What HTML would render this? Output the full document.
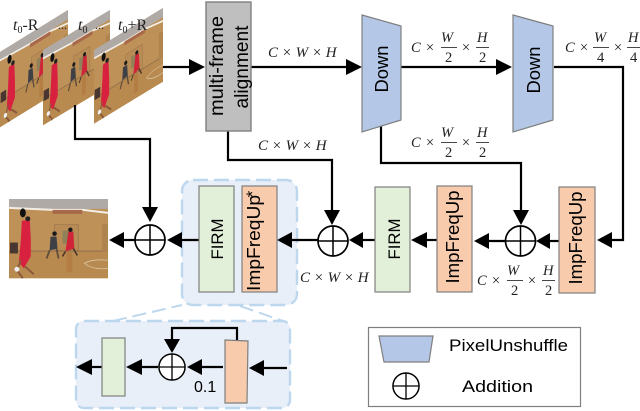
<!DOCTYPE html>
<html><head><meta charset="utf-8">
<style>
html,body{margin:0;padding:0;background:#fff}
svg{display:block}
.s{font-family:"Liberation Sans",sans-serif;fill:#000}
.m{font-family:"Liberation Serif",serif;font-style:italic;fill:#222}
.r{font-family:"Liberation Serif",serif;font-style:normal;fill:#222}
</style></head><body>
<svg width="640" height="411" viewBox="0 0 640 411" xmlns="http://www.w3.org/2000/svg">
<defs>
<g id="pic">
  <rect width="100" height="80" fill="#bd9158"/>
  <rect width="100" height="10" fill="#b0aaa6"/>
  <path d="M0 9L45 11L75 11L100 14" stroke="#f2eee6" stroke-width="2" fill="none"/>
  <rect x="44" y="11" width="30" height="4" fill="#a8694a"/>
  <rect x="0" y="53" width="100" height="27" fill="#b98a50"/>
  <rect x="0" y="52" width="100" height="1.2" fill="#96744e"/>
  <rect x="46" y="26" width="24" height="26" fill="#b98c56" stroke="#9a7448" stroke-width=".7"/>
  <rect x="54" y="32" width="11" height="13" fill="#8f8258"/>
  <rect x="94" y="25" width="6" height="28" fill="#b0844e"/>
  <rect x="1" y="44" width="8" height="11" fill="#4a3630"/>
  <path d="M13 22L21 21L22 40L22 58L15 70L10 64L12 40Z" fill="#d8213f"/>
  <ellipse cx="14" cy="14" rx="3" ry="4.5" fill="#111"/>
  <circle cx="19" cy="20" r="2.5" fill="#222"/>
  <path d="M12 62L8 72L14 80M16 68L25 76" stroke="#8a5a3a" stroke-width="2" fill="none"/>
  <circle cx="8" cy="71" r="2.500" fill="#eee"/>
  <path d="M42 38L48 38L49 50L41 52Z" fill="#3e4046"/>
  <circle cx="46" cy="35" r="2.3" fill="#1a1a1a"/>
  <path d="M41 52L38 60M48 50L50 60" stroke="#5c4a3a" stroke-width="1.8"/>
  <path d="M60 33L65 33L66 50L57 53Z" fill="#d02538"/>
  <circle cx="62" cy="31" r="2.2" fill="#1a1a1a"/>
  <path d="M57 53L54 58M65 50L69 57" stroke="#4a3428" stroke-width="1.6"/>
  <path d="M76 65Q85 60 100 62M76 65Q85 72 100 70" stroke="#d8c6a0" stroke-width=".8" fill="none"/>
  <rect x="58" y="54" width="6" height="20" fill="#a8642e" opacity=".35"/>
</g>
<g id="plus">
  <circle r="15" fill="#fff" stroke="#000" stroke-width="1.7"/>
  <path d="M-15 0H15M0 -15V15" stroke="#000" stroke-width="1.5"/>
</g>
</defs>

<!-- stacked frames -->
<g transform="matrix(.68 -.42 0 .94 0 52)"><use href="#pic"/></g>
<g transform="matrix(.67 -.4 0 .94 43 50)"><use href="#pic"/></g>
<g transform="matrix(.69 -.42 0 .92 94 50)"><use href="#pic"/></g>
<text x="13" y="30" class="m" font-size="16">t<tspan class="r" font-size="10" dy="3">0</tspan><tspan class="r" dy="-3">-R</tspan></text>
<text x="78" y="30" class="m" font-size="16">t<tspan class="r" font-size="10" dy="3">0</tspan></text>
<text x="118" y="30" class="m" font-size="16">t<tspan class="r" font-size="10" dy="3">0</tspan><tspan class="r" dy="-3">+R</tspan></text>
<text x="58" y="29" class="r" font-size="12">...</text>
<text x="95" y="29" class="r" font-size="12">...</text>

<!-- output image -->
<g transform="translate(9 199) scale(.99 .99)"><use href="#pic"/></g>

<!-- expanded panels -->
<path d="M113 321L182 305M240 306L283 321" stroke="#bdd7ee" stroke-width="2" stroke-dasharray="14 6" fill="none"/>
<rect x="182" y="180" width="115" height="125" rx="11" fill="#e8eff8" stroke="#bdd7ee" stroke-width="2.4" stroke-dasharray="15 6"/>
<rect x="76" y="321" width="214" height="87" rx="8" fill="#e8eff8" stroke="#bdd7ee" stroke-width="2.4" stroke-dasharray="15 6"/>

<!-- wires -->
<g fill="none" stroke="#000" stroke-width="2.2">
  <path d="M163 67H192"/>
  <path d="M251 67H350"/>
  <path d="M401 67H500"/>
  <path d="M554 67H623V240H610"/>
  <path d="M381 126V163H521V212"/>
  <path d="M228 131V160H332V212"/>
  <path d="M75 105V139H150V210"/>
  <path d="M559 241H548"/>
  <path d="M505 241H487"/>
  <path d="M437 240H425"/>
  <path d="M376 240H361"/>
  <path d="M318 240H290"/>
  <path d="M199 240H180"/>
  <path d="M135 240H122"/>
  <path d="M237 340V328H172V342"/>
  <path d="M287 368H262"/>
  <path d="M223 367H200"/>
  <path d="M158 367H140"/>
  <path d="M102 367H90"/>
</g>
<!-- arrowheads -->
<g fill="#000">
  <path d="M205 67L189 59V75Z"/>
  <path d="M362 67L346 59V75Z"/>
  <path d="M512 67L496 59V75Z"/>
  <path d="M597 240L612 232V248Z"/>
  <path d="M521 225L513 210H529Z"/>
  <path d="M332 225L324 210H340Z"/>
  <path d="M150 222L142 207H158Z"/>
  <path d="M536 241L550 233V249Z"/>
  <path d="M474 241L489 233V249Z"/>
  <path d="M411 240L427 232V248Z"/>
  <path d="M349 240L363 232V248Z"/>
  <path d="M277 240L292 232V248Z"/>
  <path d="M167 240L182 232V248Z"/>
  <path d="M109 240L124 232V248Z"/>
  <path d="M172 353L164 339H180Z"/>
  <path d="M249 368L264 360V376Z"/>
  <path d="M187 367L202 359V375Z"/>
  <path d="M126 367L142 359V375Z"/>
  <path d="M76 367L92 359V375Z"/>
</g>

<!-- boxes -->
<rect x="206" y="2" width="45" height="129" fill="#bfbfbf" stroke="#7f7f7f" stroke-width="1.4"/>
<path d="M362 15L401 26V120L362 132Z" fill="#b4c7e7" stroke="#7f7f7f" stroke-width="1.2"/>
<path d="M513 15L553 26V120L513 132Z" fill="#b4c7e7" stroke="#7f7f7f" stroke-width="1.2"/>
<g stroke="#7f7f7f" stroke-width="1.2">
  <rect x="199" y="186" width="35" height="106" fill="#e2efd9"/>
  <rect x="242" y="186" width="35" height="106" fill="#f8cbad"/>
  <rect x="375" y="187" width="35" height="105" fill="#e2efd9"/>
  <rect x="437" y="186" width="35" height="106" fill="#f8cbad"/>
  <rect x="559" y="187" width="36" height="106" fill="#f8cbad"/>
  <rect x="102" y="338" width="23" height="58" fill="#e2efd9"/>
  <path d="M225 340L248 341L247 403L225 403Z" fill="#f8cbad"/>
</g>

<!-- sums -->
<use href="#plus" transform="translate(150 240)"/>
<use href="#plus" transform="translate(333 241)"/>
<use href="#plus" transform="translate(520.5 241)"/>
<use href="#plus" transform="translate(172 367) scale(.87)"/>

<!-- rotated labels -->
<g class="s" text-anchor="middle">
  <text transform="translate(223 66) rotate(-90)" font-size="19" textLength="100" lengthAdjust="spacingAndGlyphs">multi-frame</text>
  <text transform="translate(248 67) rotate(-90)" font-size="19" textLength="83" lengthAdjust="spacingAndGlyphs">alignment</text>
  <text transform="translate(388 69) rotate(-90)" font-size="18" textLength="47" lengthAdjust="spacingAndGlyphs">Down</text>
  <text transform="translate(540 70) rotate(-90)" font-size="18" textLength="47" lengthAdjust="spacingAndGlyphs">Down</text>
  <text transform="translate(223 239) rotate(-90)" font-size="17" textLength="41" lengthAdjust="spacingAndGlyphs">FIRM</text>
  <text transform="translate(400 239) rotate(-90)" font-size="17" textLength="41" lengthAdjust="spacingAndGlyphs">FIRM</text>
  <text transform="translate(260 243) rotate(-90)" font-size="18" textLength="96" lengthAdjust="spacingAndGlyphs">ImpFreqUp</text>
  <text transform="translate(459 237) rotate(-90)" font-size="18" textLength="93" lengthAdjust="spacingAndGlyphs">ImpFreqUp</text>
  <text transform="translate(582 238) rotate(-90)" font-size="18" textLength="93" lengthAdjust="spacingAndGlyphs">ImpFreqUp</text>
</g>
<text transform="translate(258 194) rotate(-90)" class="s" font-size="17" text-anchor="middle">*</text>
<text x="194" y="392" class="s" font-size="16">0.1</text>

<!-- math labels -->
<text x="268" y="57" class="m" font-size="15">C × W × H</text>
<text x="258" y="150" class="m" font-size="15">C × W × H</text>
<text x="300" y="282" class="m" font-size="15">C × W × H</text>

<g class="m" font-size="14.5">
  <text x="411" y="52">C</text><text x="425" y="52">×</text><text x="441" y="42">W</text><path d="M441 47.5H457" stroke="#333" stroke-width=".9"/><text x="445" y="62" class="r">2</text>
  <text x="461" y="52">×</text><text x="477" y="42">H</text><path d="M476 47.5H489" stroke="#333" stroke-width=".9"/><text x="479" y="62" class="r">2</text>
</g>
<g class="m" font-size="14.5" transform="translate(0 95)">
  <text x="411" y="52">C</text><text x="425" y="52">×</text><text x="441" y="42">W</text><path d="M441 47.5H457" stroke="#333" stroke-width=".9"/><text x="445" y="62" class="r">2</text>
  <text x="461" y="52">×</text><text x="477" y="42">H</text><path d="M476 47.5H489" stroke="#333" stroke-width=".9"/><text x="479" y="62" class="r">2</text>
</g>
<g class="m" font-size="14.5" transform="translate(66 233)">
  <text x="411" y="52">C</text><text x="425" y="52">×</text><text x="441" y="42">W</text><path d="M441 47.5H457" stroke="#333" stroke-width=".9"/><text x="445" y="62" class="r">2</text>
  <text x="461" y="52">×</text><text x="477" y="42">H</text><path d="M476 47.5H489" stroke="#333" stroke-width=".9"/><text x="479" y="62" class="r">2</text>
</g>
<g class="m" font-size="14.5">
  <text x="565" y="52">C</text><text x="579" y="52">×</text><text x="594" y="42">W</text><path d="M593 47.5H609" stroke="#333" stroke-width=".9"/><text x="597" y="62" class="r">4</text>
  <text x="613" y="52">×</text><text x="628" y="42">H</text><path d="M627 47.5H640" stroke="#333" stroke-width=".9"/><text x="630" y="62" class="r">4</text>
</g>

<!-- legend -->
<rect x="368.5" y="327.5" width="212" height="79" fill="#fff" stroke="#7f7f7f" stroke-width="1.2"/>
<path d="M379 336H433L429 362H384Z" fill="#b4c7e7" stroke="#7f7f7f" stroke-width="1.2"/>
<text x="449" y="351" class="s" font-size="17" textLength="119" lengthAdjust="spacingAndGlyphs">PixelUnshuffle</text>
<use href="#plus" transform="translate(406 386) scale(.87)"/>
<text x="462" y="392" class="s" font-size="17" textLength="71" lengthAdjust="spacingAndGlyphs">Addition</text>
</svg>
</body></html>
